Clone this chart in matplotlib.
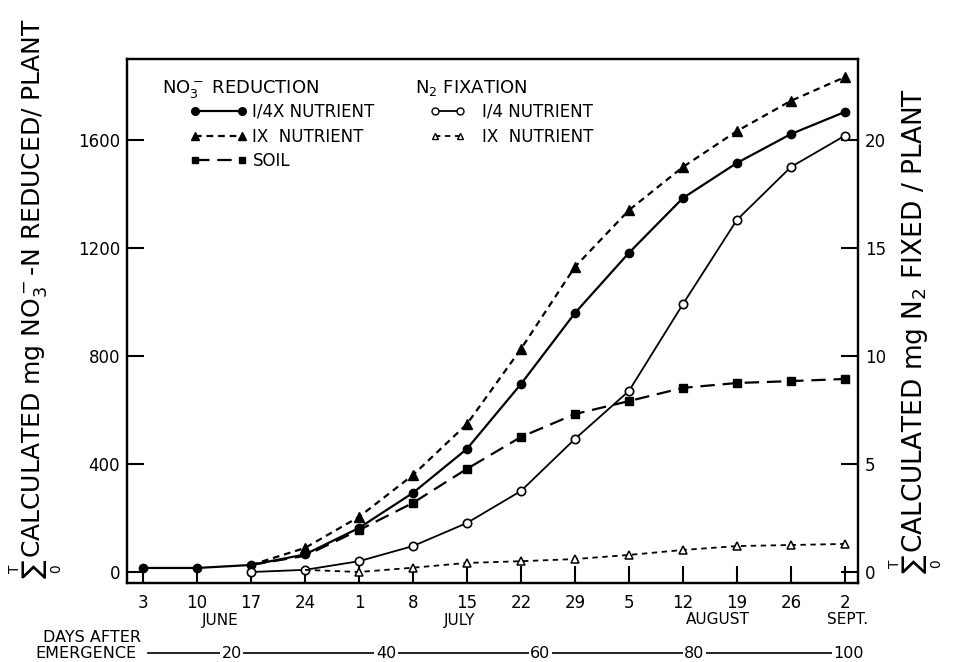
import matplotlib
matplotlib.use("Agg")
import matplotlib.pyplot as plt
import matplotlib.transforms as mtransforms
from matplotlib.lines import Line2D

plt.rcParams["font.family"] = ["DejaVu Sans"]
plt.rcParams["mathtext.default"] = "regular"

# days counted from June 3, one point per week
days = [0, 7, 14, 21, 28, 35, 42, 49, 56, 63, 70, 77, 84, 91]
day_labels = ["3", "10", "17", "24", "1", "8", "15", "22", "29", "5", "12", "19", "26", "2"]
months = ["JUNE", "JULY", "AUGUST", "SEPT."]
month_pos = [10, 41, 74.5, 91.3]
dae_labels = [20, 40, 60, 80, 100]
dae_offset = 8.5  # day index = days after emergence - offset

# NO3- reduction (left axis, mg N / plant)
no3_quarter = [15, 15, 26, 65, 163, 293, 456, 696, 959, 1182, 1385, 1515, 1622, 1704]
no3_full = [26, 89, 204, 359, 548, 826, 1130, 1340, 1500, 1633, 1745, 1833]  # from June 17
no3_soil = [26, 60, 155, 256, 382, 500, 585, 633, 682, 700, 707, 715]         # from June 17

# N2 fixation (right axis, mg N2 / plant)
n2_quarter = [0.0, 0.1, 0.5, 1.2, 2.27, 3.75, 6.16, 8.38, 12.4, 16.3, 18.75, 20.2]  # from June 17
n2_full = [0.1, 0.0, 0.2, 0.42, 0.5, 0.6, 0.79, 1.02, 1.2, 1.25, 1.3]                # from June 24

fig = plt.figure(figsize=(9.56, 6.62), dpi=100)
ax = fig.add_axes([127 / 956, 1 - 583 / 662, (858 - 127) / 956, (583 - 59) / 662])
ax2 = ax.twinx()

lw = 1.6
ms = 6
dash_short = (0, (3, 2.2))
dash_long = (0, (6.5, 3.5))
ax.plot(days, no3_quarter, color="black", lw=lw, marker="o", ms=ms)
ax.plot(days[2:], no3_full, color="black", lw=lw, ls=dash_short, marker="^", ms=ms + 0.5,
        markevery=list(range(1, len(no3_full))))
ax.plot(days[2:], no3_soil, color="black", lw=lw, ls=dash_long, marker="s", ms=ms - 0.5,
        markevery=list(range(2, len(no3_soil))))
ax2.plot(days[2:], n2_quarter, color="black", lw=1.3, marker="o", ms=ms, mfc="white", mew=1.2)
ax2.plot(days[3:], n2_full, color="black", lw=1.3, ls=(0, (3, 2.5)), marker="^", ms=ms - 0.5,
         mfc="white", mew=1.1, markevery=list(range(1, len(n2_full))))

ax.set_xlim(-2.07, 92.7)
ax.set_ylim(-40.7, 1900)
ax2.set_ylim(-40.7 / 80, 1900 / 80)

ax.set_yticks([0, 400, 800, 1200, 1600])
ax2.set_yticks([0, 5, 10, 15, 20])
ax.set_xticks(days)
ax.set_xticklabels(day_labels)

for a in (ax, ax2):
    for s in a.spines.values():
        s.set_linewidth(1.6)
ax.tick_params(axis="both", direction="in", length=12, width=1.5, labelsize=12)
ax.tick_params(axis="x", pad=8)
ax.tick_params(axis="y", pad=5)
ax2.tick_params(axis="y", direction="in", length=12, width=1.5, labelsize=12, pad=5)

# axis titles: text first, then the summation sign placed right below it
px = mtransforms.IdentityTransform()
left_title = fig.text(35, 662 - 18, r"CALCULATED mg NO$_3^-$-N REDUCED/ PLANT",
                      transform=px, rotation=90, ha="center", va="top", fontsize=18)
right_title = fig.text(915, 662 - 88, r"CALCULATED mg N$_2$ FIXED / PLANT",
                       transform=px, rotation=90, ha="center", va="top", fontsize=19)
fig.canvas.draw()
for t, xc in ((left_title, 36), (right_title, 916)):
    bb = t.get_window_extent()
    fig.text(xc, bb.y0 - 1, r"$\sum_0^T$", transform=px, rotation=90,
             ha="center", va="top", fontsize=14)

# month names and days-after-emergence scale under the axis
trans = mtransforms.blended_transform_factory(ax.transData, fig.transFigure)
for name, pos in zip(months, month_pos):
    ax.text(pos, 1 - 620 / 662, name, transform=trans, ha="center", va="center", fontsize=11)

fig.text(43 / 956, 1 - 637 / 662, "DAYS AFTER", ha="left", va="center", fontsize=11.5)
fig.text(35 / 956, 1 - 653 / 662, "EMERGENCE", ha="left", va="center", fontsize=11.5)
ax.plot([0.6, 89.6], [1 - 653 / 662] * 2, transform=trans, color="black", lw=1.2, clip_on=False)
for d in dae_labels:
    ax.text(d - dae_offset, 1 - 653 / 662, str(d), transform=trans, ha="center", va="center",
            fontsize=11.5, bbox=dict(facecolor="white", edgecolor="none", pad=1))

# legend headers and entries
fig.text(162 / 956, 1 - 93 / 662, r"NO$_3^-$ REDUCTION", ha="left", va="baseline", fontsize=13)
fig.text(415 / 956, 1 - 93 / 662, r"N$_2$ FIXATION", ha="left", va="baseline", fontsize=13)

h1 = [
    Line2D([], [], color="black", lw=lw, marker="o", ms=5.5),
    Line2D([], [], color="black", lw=lw, ls=dash_short, marker="^", ms=5.5),
    Line2D([], [], color="black", lw=lw, ls=dash_long, marker="s", ms=5),
]
fig.legend(h1, ["I/4X NUTRIENT", "IX  NUTRIENT", "SOIL"], loc="upper left",
           bbox_to_anchor=(190 / 956, 1 - 103 / 662), frameon=False, numpoints=2,
           handlelength=3.4, handletextpad=0.35, labelspacing=0.4, borderpad=0,
           borderaxespad=0, fontsize=12)
h2 = [
    Line2D([], [], color="black", lw=1.3, marker="o", ms=5, mfc="white"),
    Line2D([], [], color="black", lw=1.3, ls=(0, (3, 2.5)), marker="^", ms=5, mfc="white"),
]
fig.legend(h2, ["I/4 NUTRIENT", "IX  NUTRIENT"], loc="upper left",
           bbox_to_anchor=(430 / 956, 1 - 103 / 662), frameon=False, numpoints=2,
           handlelength=2.1, handletextpad=1.0, labelspacing=0.4, borderpad=0,
           borderaxespad=0, fontsize=12)

fig.savefig("out.png", dpi=100)
